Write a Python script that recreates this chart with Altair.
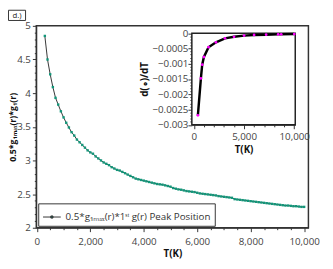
import altair as alt
import pandas as pd

# ---------------- data ----------------
main_T = [300, 400, 500, 600, 700, 800, 900, 1000, 1100, 1200, 1300, 1400, 1500, 1600, 1700,
          1800, 1900, 2000, 2100, 2200, 2300, 2400, 2500, 2600, 2700, 2800, 2900, 3000, 3100,
          3200, 3300, 3400, 3500, 3600, 3700, 3800, 3900, 4000, 4100, 4200, 4300, 4400, 4500,
          4600, 4700, 4800, 4900, 5000, 5100, 5200, 5300, 5400, 5500, 5600, 5700, 5800, 5900,
          6000, 6100, 6200, 6300, 6400, 6500, 6600, 6700, 6800, 6900, 7000, 7100, 7200, 7300,
          7400, 7500, 7600, 7700, 7800, 7900, 8000, 8100, 8200, 8300, 8400, 8500, 8600, 8700,
          8800, 8900, 9000, 9100, 9200, 9300, 9400, 9500, 9600, 9700, 9800, 9900, 10000]
main_v = [4.85, 4.50, 4.28, 4.09, 3.93, 3.83, 3.73, 3.64, 3.56, 3.49, 3.42, 3.37, 3.31, 3.27, 3.23,
          3.19, 3.15, 3.12, 3.10, 3.06, 3.03, 3.00, 2.97, 2.95, 2.93, 2.90, 2.88, 2.86, 2.85,
          2.83, 2.81, 2.79, 2.77, 2.75, 2.73, 2.72, 2.71, 2.70, 2.69, 2.68, 2.67, 2.66, 2.65,
          2.645, 2.64, 2.63, 2.62, 2.61, 2.59, 2.58, 2.57, 2.565, 2.555, 2.545, 2.54, 2.535, 2.53,
          2.52, 2.51, 2.505, 2.50, 2.495, 2.49, 2.485, 2.48, 2.47, 2.465, 2.46, 2.455, 2.45, 2.445,
          2.425, 2.42, 2.415, 2.41, 2.405, 2.40, 2.395, 2.39, 2.385, 2.38, 2.375, 2.37, 2.365, 2.36,
          2.355, 2.35, 2.345, 2.34, 2.335, 2.33, 2.33, 2.325, 2.32, 2.32, 2.315, 2.31, 2.31]
series_name = "0.5*g\u2081\u2098\u2090\u2093(r)*1\u02e2\u1d57 g(r) Peak Position"

inset_T = [400, 700, 830, 1000, 1460, 2200, 3100, 4000, 5000, 6000, 7200, 8400, 8700, 10000]
inset_v = [-0.00269, -0.00148, -0.00103, -0.00078, -0.00046, -0.00030, -0.00017, -0.00012,
           -0.00008, -0.00006, -0.00005, -0.00004, -0.000038, -0.00003]

main_x_domain = [-20, 10160]
main_y_domain = [2, 5]
inset_x_domain = [-200, 10100]
inset_y_domain = [-0.003, 0]

main_x_ticks = [i * 500 for i in range(21)]
main_y_ticks = [round(2 + i * 0.1, 1) for i in range(31)]
inset_x_ticks = [i * 1000 for i in range(11)]
inset_y_ticks = [round(-0.003 + i * 0.0001, 4) for i in range(31)]

df_main = pd.DataFrame({"T": main_T, "v": main_v, "series": series_name})
df_inset = pd.DataFrame({"T": inset_T, "v": inset_v})
df_frame = pd.DataFrame({"x0": [inset_x_domain[0]], "x1": [inset_x_domain[1]],
                         "y0": [inset_y_domain[0]], "y1": [inset_y_domain[1]]})
df_label = pd.DataFrame({"t": ["d.)"]})

GREEN = "#12977a"
FONT = "Open Sans"
W, H = 279, 207

# ---------------- main chart ----------------
xs_main = alt.Scale(domain=main_x_domain, nice=False, zero=False)
ys_main = alt.Scale(domain=main_y_domain, nice=False, zero=False)

main_x_axis = alt.Axis(
    title="T(K)", values=main_x_ticks, tickCount=len(main_x_ticks),
    labelOverlap=False, labelFlush=False,
    labelExpr="datum.value % 2000 === 0 ? format(datum.value, ',') : ''",
    tickSize={"condition": {"test": "datum.value % 2000 === 0", "value": 4}, "value": 2},
    labelPadding=5, titlePadding=2,
)
main_y_axis = alt.Axis(
    title="0.5*g\u2081\u2098\u2090\u2093(r)*g\u2081(r)", values=main_y_ticks,
    tickCount=len(main_y_ticks), labelOverlap=False, labelFlush=False,
    labelExpr="abs(round(datum.value*10) % 5) === 0 ? format(datum.value, '~g') : ''",
    tickSize={"condition": {"test": "abs(round(datum.value*10) % 5) === 0", "value": 4}, "value": 2},
    labelPadding=2, titleX=-24.5, titleY=H / 2, titleBaseline="middle", titleFontSize=9,
)

main_line = alt.Chart(df_main).mark_line(strokeWidth=1).encode(
    x=alt.X("T:Q", scale=xs_main, axis=main_x_axis),
    y=alt.Y("v:Q", scale=ys_main, axis=main_y_axis),
    stroke=alt.Stroke("series:N", scale=alt.Scale(range=["#333333"]),
                      legend=alt.Legend(title=None, orient="bottom-left", offset=2,
                                        symbolType="M-1,0H1M-0.12,-0.12H0.12V0.12H-0.12Z",
                                        symbolSize=330, symbolStrokeWidth=1,
                                        symbolFillColor=GREEN,
                                        labelFont=FONT, labelFontSize=10,
                                        labelColor="#333", padding=4,
                                        strokeColor="#333", fillColor="white",
                                        cornerRadius=0)),
)
main_pts = alt.Chart(df_main).mark_square(size=6, color=GREEN, opacity=1).encode(
    x="T:Q", y="v:Q"
)
main = alt.layer(main_line, main_pts)

# ---------------- inset ----------------
IN_LEFT, IN_RIGHT, IN_TOP, IN_BOTTOM = 159.5, 265.5, 7.5, 101.5
xs_in = alt.Scale(domain=inset_x_domain, range=[IN_LEFT, IN_RIGHT], nice=False, zero=False)
ys_in = alt.Scale(domain=inset_y_domain, range=[IN_BOTTOM, IN_TOP], nice=False, zero=False)

inset_x_axis = alt.Axis(
    title="T(K)", orient="bottom", offset=-(H - IN_BOTTOM), values=inset_x_ticks,
    tickCount=len(inset_x_ticks), labelOverlap=False, labelFlush=False,
    labelExpr="datum.value % 5000 === 0 ? format(datum.value, ',') : ''",
    tickSize={"condition": {"test": "datum.value % 5000 === 0", "value": 4}, "value": 2},
    labelPadding=3, titlePadding=3,
)
inset_y_axis = alt.Axis(
    title="d(\u2218)/dT", orient="left", offset=-IN_LEFT, values=inset_y_ticks,
    tickCount=len(inset_y_ticks), labelOverlap=False, labelFlush=False,
    labelExpr="abs(round(datum.value*10000) % 5) === 0 ? format(datum.value, '~g') : ''",
    tickSize={"condition": {"test": "abs(round(datum.value*10000) % 5) === 0", "value": 4}, "value": 2},
    labelPadding=0, titlePadding=3,
)

inset_frame = alt.Chart(df_frame).mark_rect(fill="white", stroke="#222", strokeWidth=1.5).encode(
    x=alt.X("x0:Q", scale=xs_in, axis=inset_x_axis),
    x2="x1:Q",
    y=alt.Y("y0:Q", scale=ys_in, axis=inset_y_axis),
    y2="y1:Q",
)
inset_line = alt.Chart(df_inset).mark_line(color="black", strokeWidth=2.5).encode(
    x="T:Q", y="v:Q"
)
inset_pts = alt.Chart(df_inset).mark_circle(color="#ff00ff", size=8, opacity=1).encode(
    x="T:Q", y="v:Q"
)
inset = alt.layer(inset_frame, inset_line, inset_pts)

# ---------------- panel label ----------------
label_box = alt.Chart(df_label).mark_rect(fill="white", stroke="#333", strokeWidth=1).encode(
    x=alt.value(-28.5), x2=alt.value(-11), y=alt.value(-16), y2=alt.value(-5.5)
)
label_txt = alt.Chart(df_label).mark_text(font=FONT, fontSize=8, color="#222").encode(
    x=alt.value(-19.7), y=alt.value(-10.5), text="t:N"
)

chart = alt.layer(main, inset, label_box, label_txt).resolve_scale(
    x="independent", y="independent"
).properties(
    width=W, height=H,
    autosize=alt.AutoSizeParams(type="none"),
    padding={"left": 29, "top": 15, "right": 17, "bottom": 39},
    background="white",
).configure_view(
    stroke="#333", strokeWidth=1.5
).configure_axis(
    grid=False, labelFont=FONT, labelFontSize=10, labelColor="#444",
    titleFont=FONT, titleFontWeight="bold", titleFontSize=10, titleColor="#111",
    domainColor="#333", tickColor="#333", domainWidth=1,
)

chart.save("out.html", embed_options={"renderer": "svg", "actions": False})
